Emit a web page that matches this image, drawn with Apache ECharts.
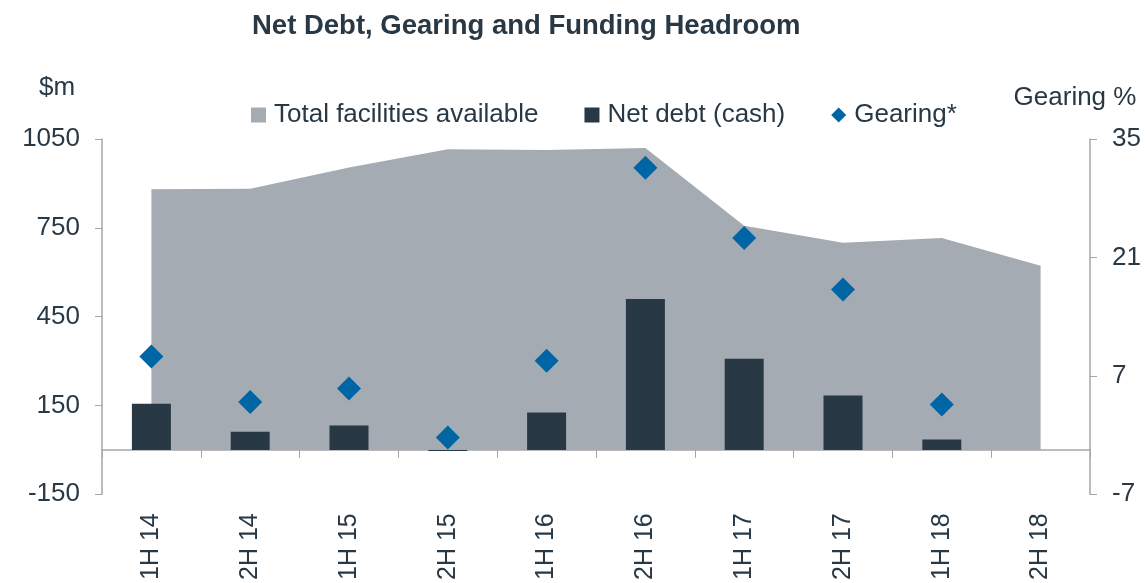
<!DOCTYPE html>
<html>
<head>
<meta charset="utf-8">
<title>Net Debt, Gearing and Funding Headroom</title>
<script src="https://cdn.jsdelivr.net/npm/echarts@6/dist/echarts.min.js"></script>
<style>
html,body{margin:0;padding:0;background:#fff;}
#chart{width:1145px;height:583px;}
</style>
</head>
<body>
<div id="chart"></div>
<script>
// 数据
var periods = ['1H 14','2H 14','1H 15','2H 15','1H 16','2H 16','1H 17','2H 17','1H 18','2H 18'];
var facilities = [880, 882, 954, 1015, 1013, 1020, 757, 700, 716, 622];
var netDebt = [156, 61, 82, -4, 126, 510, 308, 184, 35, null];
var gearing = [9.3, 3.9, 5.5, -0.3, 8.8, 31.6, 23.3, 17.2, 3.6, null];
var leftTicks = [-150, 150, 450, 750, 1050];
var rightTicks = [-7, 7, 21, 35];

var font = 'Liberation Sans, Arial, sans-serif';
var ink = '#283845';
var axisGrey = '#a6a6a6';

var chart = echarts.init(document.getElementById('chart'));
chart.setOption({
    animation:false,
    textStyle:{fontFamily:font},
    title:{
        text:'Net Debt, Gearing and Funding Headroom',
        left:247,
        top:7,
        textStyle:{fontSize:27.5,fontWeight:'bold',color:ink,fontFamily:font}
    },
    legend:{
        left:246,
        top:97,
        itemWidth:15,
        itemHeight:15,
        itemGap:46,
        textStyle:{fontSize:26,color:ink,fontFamily:font,padding:[0,0,0,3]},
        data:[
            {name:'Total facilities available',icon:'rect'},
            {name:'Net debt (cash)',icon:'rect'},
            {name:'Gearing*',icon:'diamond'}
        ]
    },
    grid:{left:102,right:55,top:139,bottom:87},
    xAxis:[
        {
            type:'category',
            data:periods,
            boundaryGap:true,
            axisLine:{onZero:true,lineStyle:{color:axisGrey,width:1.5}},
            axisTick:{show:true,length:8,lineStyle:{color:axisGrey}},
            axisLabel:{show:false}
        },
        {
            type:'category',
            data:periods,
            position:'bottom',
            axisLine:{show:false},
            axisTick:{show:false},
            axisLabel:{rotate:90,margin:19,fontSize:25,color:ink,fontFamily:font}
        }
    ],
    yAxis:[
        {
            type:'value',
            min:-150,
            max:1050,
            name:'$m',
            nameLocation:'end',
            nameGap:38,
            nameTextStyle:{fontSize:26,color:ink,fontFamily:font,padding:[0,90,0,0]},
            axisLine:{show:true,lineStyle:{color:axisGrey,width:1.5}},
            axisTick:{show:true,length:7,customValues:leftTicks,lineStyle:{color:axisGrey}},
            axisLabel:{customValues:leftTicks,margin:22,fontSize:26,color:ink,fontFamily:font,
                formatter:function(v){return String(v);}},
            splitLine:{show:false}
        },
        {
            type:'value',
            min:-7,
            max:35,
            name:'Gearing %',
            nameLocation:'end',
            nameGap:28,
            nameTextStyle:{fontSize:26,color:ink,fontFamily:font,padding:[0,30,0,0]},
            axisLine:{show:true,lineStyle:{color:axisGrey,width:1.5}},
            axisTick:{show:true,length:7,customValues:rightTicks,lineStyle:{color:axisGrey}},
            axisLabel:{customValues:rightTicks,margin:22,fontSize:26,color:ink,fontFamily:font},
            splitLine:{show:false}
        }
    ],
    series:[
        {
            name:'Total facilities available',
            type:'line',
            data:facilities,
            symbol:'none',
            lineStyle:{width:0},
            itemStyle:{color:'#a5abb2'},
            areaStyle:{color:'#a5abb2',opacity:1},
            z:1
        },
        {
            name:'Net debt (cash)',
            type:'bar',
            data:netDebt,
            barWidth:39,
            itemStyle:{color:ink},
            z:3
        },
        {
            name:'Gearing*',
            type:'scatter',
            yAxisIndex:1,
            data:gearing,
            symbol:'diamond',
            symbolSize:24,
            itemStyle:{color:'#0065a4',opacity:1},
            z:4
        }
    ]
});
</script>
</body>
</html>
